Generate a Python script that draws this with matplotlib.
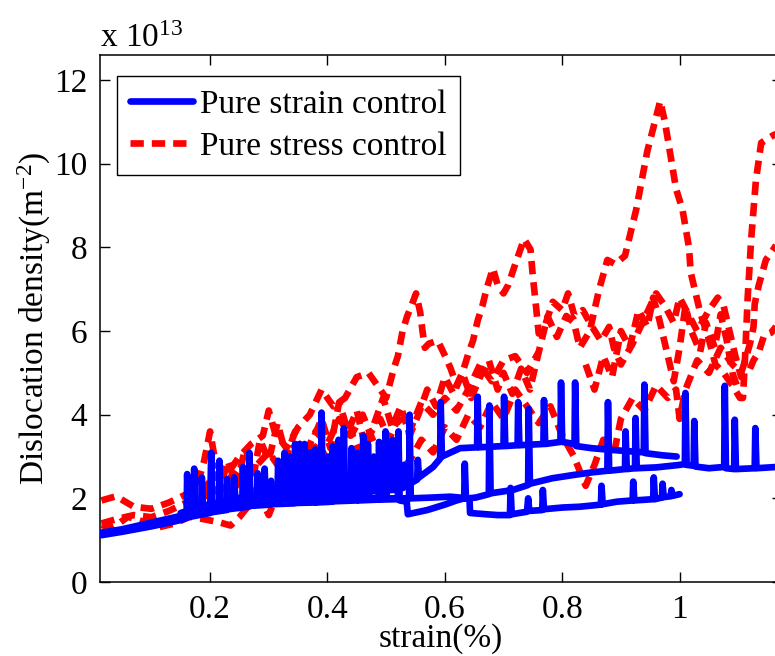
import matplotlib
matplotlib.use("Agg")
import matplotlib.pyplot as plt
import numpy as np

plt.rcParams["font.family"] = ["Liberation Serif", "DejaVu Serif"]
plt.rcParams["mathtext.fontset"] = "custom"
plt.rcParams["mathtext.rm"] = "Liberation Serif"
plt.rcParams["mathtext.it"] = "Liberation Serif:italic"

# ---- data (strain %, dislocation density x1e13 m^-2) ----
# pure strain control: overlapping traces with plastic spikes
strain_lo = np.array([
    (0.015, 1.12), (0.05, 1.2), (0.1, 1.33), (0.15, 1.48), (0.16, 1.53), (0.161, 2.58), (0.163, 1.55),
    (0.2, 1.65), (0.202, 3.09), (0.204, 1.67), (0.228, 1.72), (0.229, 2.46), (0.231, 1.74),
    (0.266, 1.8), (0.267, 3.09), (0.269, 1.82), (0.303, 1.85), (0.304, 2.42), (0.306, 1.86),
    (0.344, 1.88), (0.345, 3.3), (0.347, 1.89), (0.378, 1.9), (0.379, 3.17), (0.381, 1.9),
    (0.408, 1.92), (0.409, 3.25), (0.411, 1.93), (0.45, 1.95), (0.451, 3.09), (0.453, 1.95),
    (0.487, 1.97), (0.488, 3.35), (0.49, 1.97), (0.52, 1.98), (0.521, 3.6), (0.523, 1.95),
    (0.535, 1.92), (0.537, 1.62), (0.57, 1.72), (0.6, 1.85), (0.62, 1.95), (0.633, 2.0),
    (0.634, 2.83), (0.636, 2.0), (0.642, 2.0), (0.643, 1.65), (0.67, 1.62), (0.69, 1.6),
    (0.711, 1.6), (0.712, 2.25), (0.714, 1.62), (0.74, 1.68), (0.742, 2.0), (0.744, 1.7),
    (0.766, 1.72), (0.767, 2.2), (0.769, 1.74), (0.8, 1.78), (0.83, 1.8), (0.866, 1.85),
    (0.867, 2.3), (0.869, 1.86), (0.893, 1.92), (0.92, 1.95), (0.921, 2.4), (0.923, 1.95),
    (0.955, 1.98), (0.956, 2.5), (0.958, 1.98), (0.97, 2.02), (0.971, 2.35), (0.973, 2.03),
    (0.985, 2.05), (0.986, 2.2), (0.988, 2.06), (1.0, 2.1),
])
strain_mid = np.array([
    (0.015, 1.18), (0.05, 1.26), (0.1, 1.42), (0.15, 1.58), (0.172, 1.65), (0.173, 2.71), (0.175, 1.67),
    (0.2, 1.78), (0.228, 1.86), (0.255, 1.9), (0.256, 2.75), (0.258, 1.92), (0.292, 1.95),
    (0.293, 2.71), (0.295, 1.97), (0.326, 2.0), (0.327, 3.09), (0.329, 2.0), (0.36, 2.02),
    (0.361, 3.3), (0.363, 2.02), (0.389, 2.05), (0.39, 4.05), (0.392, 2.05), (0.427, 2.05),
    (0.428, 3.68), (0.43, 2.05), (0.468, 2.02), (0.469, 3.3), (0.471, 2.02), (0.498, 2.0),
    (0.499, 3.6), (0.501, 2.0), (0.539, 2.0), (0.54, 4.0), (0.542, 2.0), (0.58, 2.02),
    (0.609, 2.04), (0.64, 2.0), (0.653, 2.02), (0.675, 2.1), (0.676, 4.22), (0.678, 2.12),
    (0.716, 2.2), (0.742, 2.32), (0.743, 4.14), (0.745, 2.35), (0.783, 2.48), (0.82, 2.56),
    (0.85, 2.62), (0.877, 2.66), (0.878, 4.3), (0.88, 2.66), (0.907, 2.7), (0.908, 3.6),
    (0.91, 2.7), (0.924, 2.72), (0.925, 3.92), (0.927, 2.72), (0.96, 2.74), (1.0, 2.8),
    (1.009, 2.82), (1.01, 4.52), (1.012, 2.8), (1.024, 2.78), (1.025, 3.85), (1.027, 2.76),
    (1.05, 2.72), (1.076, 2.75), (1.077, 4.69), (1.079, 2.72), (1.093, 2.7), (1.094, 3.88),
    (1.096, 2.7), (1.128, 2.72), (1.129, 3.68), (1.131, 2.72), (1.165, 2.75), (1.17, 3.1),
    (1.175, 2.8),
])
strain_hi = np.array([
    (0.15, 1.65), (0.185, 1.8), (0.186, 2.5), (0.188, 1.82), (0.215, 1.9), (0.216, 2.9),
    (0.218, 1.92), (0.24, 1.98), (0.241, 2.5), (0.243, 2.0), (0.28, 2.05), (0.281, 2.6),
    (0.283, 2.06), (0.315, 2.1), (0.316, 2.9), (0.318, 2.1), (0.335, 2.12), (0.336, 3.0),
    (0.338, 2.12), (0.352, 2.13), (0.353, 3.3), (0.355, 2.13), (0.37, 2.14), (0.371, 3.1),
    (0.373, 2.14), (0.4, 2.15), (0.401, 3.0), (0.403, 2.15), (0.418, 2.16), (0.419, 3.4),
    (0.421, 2.16), (0.44, 2.17), (0.441, 3.2), (0.443, 2.17), (0.46, 2.18), (0.461, 3.5),
    (0.463, 2.18), (0.478, 2.18), (0.479, 3.0), (0.481, 2.18), (0.51, 2.2), (0.511, 3.4),
    (0.513, 2.2), (0.529, 2.25), (0.53, 2.8), (0.532, 2.28), (0.553, 2.45), (0.554, 2.92),
    (0.556, 2.5), (0.58, 2.75),
    (0.592, 2.95), (0.593, 4.3), (0.595, 3.0), (0.626, 3.2), (0.655, 3.22), (0.656, 4.43),
    (0.658, 3.22), (0.7, 3.25), (0.701, 4.43), (0.703, 3.25), (0.724, 3.27), (0.725, 4.3),
    (0.727, 3.27), (0.768, 3.3), (0.769, 4.35), (0.771, 3.3), (0.797, 3.35), (0.798, 4.77),
    (0.8, 3.35), (0.821, 3.3), (0.822, 4.77), (0.824, 3.25), (0.85, 3.2), (0.882, 3.16),
    (0.939, 3.1), (0.94, 4.72), (0.942, 3.08), (0.97, 3.03), (0.995, 3.0),
])

# pure stress control: noisy traces
stress_a = np.array([
    (0.015, 1.95), (0.04, 2.05), (0.07, 1.8), (0.1, 1.75), (0.13, 1.9), (0.16, 2.1), (0.18, 2.4),
    (0.19, 2.9), (0.2, 3.6), (0.21, 2.8), (0.23, 2.6), (0.25, 3.0), (0.27, 3.3), (0.29, 3.5),
    (0.3, 4.1), (0.31, 3.6), (0.33, 3.2), (0.35, 3.7), (0.37, 4.0), (0.39, 4.6), (0.41, 4.2),
    (0.43, 4.4), (0.45, 4.9), (0.47, 5.0), (0.49, 4.6), (0.5, 4.4), (0.513, 5.1), (0.52, 5.4),
    (0.528, 6.0), (0.536, 6.36), (0.543, 6.6), (0.551, 6.9), (0.558, 6.45), (0.562, 6.0),
    (0.566, 5.6), (0.573, 5.7), (0.588, 5.77), (0.602, 5.36), (0.61, 5.1), (0.62, 4.7),
    (0.63, 5.0), (0.641, 5.5), (0.648, 5.77), (0.656, 6.25), (0.664, 6.6), (0.671, 7.0),
    (0.682, 7.5), (0.69, 7.1), (0.7, 6.9), (0.708, 7.1), (0.72, 7.6), (0.735, 8.2),
    (0.746, 7.95), (0.75, 7.3), (0.754, 6.78), (0.76, 5.94), (0.77, 6.1), (0.784, 6.7),
    (0.8, 6.5), (0.81, 6.9), (0.821, 6.36), (0.835, 6.5), (0.851, 6.1), (0.866, 5.77),
    (0.88, 6.1), (0.888, 5.6), (0.9, 5.2), (0.92, 5.7), (0.94, 6.3), (0.96, 6.9), (0.975, 6.6),
    (0.99, 6.2), (1.0, 6.8), (1.015, 6.4), (1.03, 6.0), (1.05, 6.5), (1.065, 6.8), (1.075, 6.6),
    (1.085, 6.0), (1.095, 5.4), (1.105, 4.9), (1.117, 5.0), (1.126, 5.3), (1.135, 5.5),
    (1.144, 5.9), (1.156, 5.96), (1.175, 6.3),
])
stress_b = np.array([
    (0.015, 1.36), (0.035, 1.3), (0.06, 1.56), (0.085, 1.45), (0.11, 1.3), (0.14, 1.4),
    (0.165, 1.56), (0.19, 1.5), (0.215, 1.43), (0.235, 1.35), (0.25, 1.55), (0.27, 1.9),
    (0.28, 2.3), (0.29, 1.9), (0.3, 1.6), (0.32, 2.3), (0.34, 2.8), (0.355, 2.4), (0.37, 3.0),
    (0.385, 3.3), (0.4, 2.9), (0.42, 3.2), (0.44, 3.6), (0.455, 3.1), (0.47, 3.5), (0.49, 3.9),
    (0.505, 3.4), (0.52, 3.9), (0.54, 3.6), (0.56, 4.3), (0.58, 4.0), (0.6, 4.4), (0.62, 4.1),
    (0.64, 4.6), (0.66, 5.2), (0.68, 4.8), (0.7, 5.3), (0.72, 5.4), (0.74, 5.0), (0.76, 5.5),
    (0.775, 6.35), (0.791, 5.86), (0.807, 6.36), (0.82, 6.2), (0.83, 5.6), (0.847, 6.0),
    (0.863, 7.0), (0.877, 7.7), (0.89, 7.6), (0.907, 7.8), (0.926, 8.9), (0.945, 10.3),
    (0.967, 11.5), (0.975, 11.0), (0.994, 9.4), (1.005, 8.9), (1.016, 8.0), (1.019, 7.4),
    (1.035, 6.45), (1.05, 5.8), (1.061, 5.2), (1.075, 5.0), (1.09, 4.7), (1.103, 4.4),
    (1.108, 4.4), (1.112, 5.5), (1.116, 6.8), (1.122, 8.2), (1.13, 9.6), (1.139, 10.5),
    (1.15, 10.6), (1.162, 10.7), (1.175, 10.6),
])
stress_c = np.array([
    (0.015, 1.4), (0.04, 1.5), (0.07, 1.6), (0.1, 1.55), (0.13, 1.7), (0.16, 1.9), (0.18, 2.1),
    (0.2, 2.4), (0.22, 2.2), (0.24, 2.6), (0.26, 2.4), (0.28, 2.8), (0.3, 3.1), (0.32, 2.7),
    (0.34, 3.3), (0.36, 3.0), (0.38, 3.6), (0.4, 3.3), (0.42, 3.9), (0.44, 3.5), (0.46, 4.0),
    (0.48, 3.3), (0.5, 3.0), (0.52, 2.6), (0.54, 2.9), (0.56, 3.4), (0.58, 3.1), (0.6, 3.7),
    (0.62, 3.4), (0.64, 4.0), (0.66, 3.7), (0.68, 4.3), (0.7, 3.9), (0.72, 4.6), (0.74, 4.2),
    (0.76, 3.8), (0.78, 4.2), (0.8, 3.5), (0.82, 3.0), (0.84, 2.3), (0.855, 2.8), (0.87, 3.4),
    (0.89, 3.2), (0.9, 3.9), (0.92, 4.4), (0.94, 4.1), (0.96, 4.7), (0.98, 4.4), (0.994, 4.6),
    (1.0, 3.9), (1.01, 4.6), (1.03, 5.3), (1.05, 5.0), (1.07, 5.6), (1.09, 5.2), (1.105, 5.0),
    (1.113, 5.36), (1.12, 5.7), (1.126, 6.1), (1.128, 6.65), (1.135, 7.1), (1.147, 7.7),
    (1.162, 8.0), (1.175, 8.3),
])
stress_d = np.array([
    (0.19, 2.0), (0.205, 2.6), (0.215, 2.1), (0.23, 2.9), (0.245, 2.3), (0.26, 3.2), (0.275, 2.6),
    (0.285, 3.4), (0.3, 2.9), (0.315, 3.8), (0.33, 3.0), (0.345, 3.6), (0.36, 2.7), (0.375, 3.4),
    (0.39, 3.9), (0.405, 3.2), (0.42, 4.3), (0.435, 3.6), (0.45, 4.1), (0.465, 3.2), (0.48, 3.8),
    (0.495, 4.4), (0.51, 3.7), (0.525, 4.2), (0.54, 3.5), (0.555, 4.0), (0.57, 4.6), (0.585, 4.2),
    (0.6, 4.9), (0.615, 4.5), (0.63, 5.0), (0.645, 4.4), (0.66, 4.9), (0.675, 5.3), (0.69, 4.6),
    (0.7, 5.0), (0.715, 4.5), (0.73, 5.1), (0.745, 4.6), (0.76, 5.5),
])
stress_e = np.array([
    (0.84, 5.2), (0.855, 4.6), (0.87, 5.4), (0.885, 4.9), (0.9, 6.0), (0.915, 5.6), (0.93, 6.5),
    (0.945, 6.1), (0.955, 6.8), (0.965, 6.3), (0.98, 5.4), (0.99, 4.8), (1.0, 5.6), (1.01, 6.6),
    (1.02, 6.0), (1.035, 5.5), (1.045, 6.2), (1.06, 5.6), (1.07, 6.4), (1.08, 5.8), (1.09, 5.0),
    (1.1, 4.6),
])

x_ticks = [0.2, 0.4, 0.6, 0.8, 1.0]
x_ticklabels = ["0.2", "0.4", "0.6", "0.8", "1"]
y_ticks = [0, 2, 4, 6, 8, 10, 12]

W, H = 775, 656
fig = plt.figure(figsize=(W / 100, H / 100), dpi=100)
# right spine sits just past the figure edge, as in the cropped original
ax = fig.add_axes([99.7 / W, (H - 582) / H, (782.3 - 99.7) / W, (582 - 55) / H])

lw = 4.8
dash = (0, (2.0, 1.2))
for i, tr in enumerate([stress_a, stress_b, stress_c, stress_d, stress_e]):
    ax.plot(tr[:, 0], tr[:, 1], color="#ff0000", lw=lw, linestyle=dash,
            label="Pure stress control" if i == 0 else None, zorder=2)
for i, tr in enumerate([strain_lo, strain_mid, strain_hi]):
    ax.plot(tr[:, 0], tr[:, 1], color="#0000ff", lw=lw, solid_joinstyle="round",
            solid_capstyle="round", label="Pure strain control" if i == 0 else None, zorder=3)

ax.set_xlim(0.012, 1.175)
ax.set_ylim(0, 12.6)
ax.set_xticks(x_ticks)
ax.set_xticklabels(x_ticklabels)
ax.set_yticks(y_ticks)
ax.tick_params(direction="in", top=True, right=True, length=7, width=1,
               labelsize=24, pad=9)
for sp in ax.spines.values():
    sp.set_linewidth(1.1)

ax.set_xlabel("strain(%)", fontsize=24)
ax.xaxis.set_label_coords(0.5, -0.078)
ax.set_ylabel(r"Dislocation density(m$^{-2}$)", fontsize=24)
ax.yaxis.set_label_coords(-0.068, 0.5)

fig.text(100 / W, (H - 47) / H, r"x 10$^{13}$", fontsize=24, ha="left", va="baseline")

handles, labels = ax.get_legend_handles_labels()
order = [labels.index("Pure strain control"), labels.index("Pure stress control")]
leg = ax.legend([handles[k] for k in order], [labels[k] for k in order],
                loc="upper left", bbox_to_anchor=(0.025, 0.96), borderaxespad=0,
                fontsize=24, handlelength=1.9, handletextpad=0.2, borderpad=0.4,
                labelspacing=0.35, fancybox=False, framealpha=1, edgecolor="black")
leg.get_frame().set_linewidth(1.0)

fig.savefig("out.png", dpi=100)
